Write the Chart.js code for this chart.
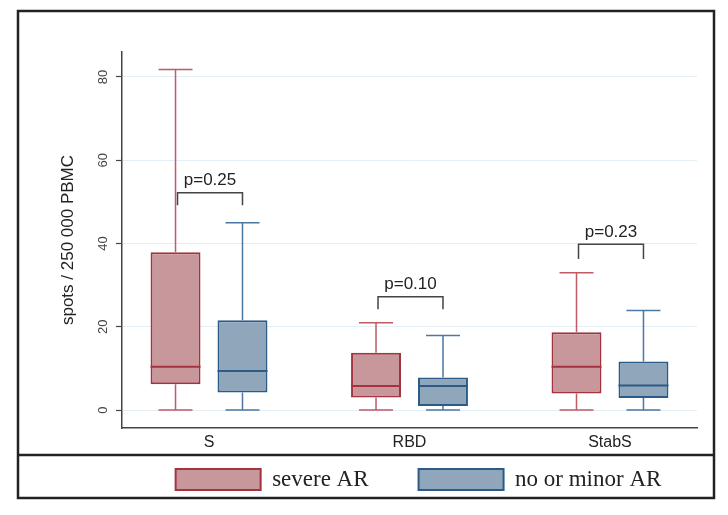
<!DOCTYPE html>
<html>
<head>
<meta charset="utf-8">
<script src="https://cdn.jsdelivr.net/npm/chart.js@4/dist/chart.umd.min.js"></script>
<style>
  html, body { margin: 0; padding: 0; background: #fff; }
  #wrap { width: 728px; height: 515px; }
</style>
</head>
<body>
<div id="wrap"><canvas id="myChart" width="728" height="515"></canvas></div>
<script>
// categories and box-plot values
var categories = ['S', 'RBD', 'StabS'];

var severeMin = [0, 0, 0];
var severeQ1 = [6.2, 3, 4];
var severeMed = [10.4, 5.8, 10.4];
var severeQ3 = [37.9, 13.8, 18.7];
var severeMax = [81.8, 21, 33];

var minorMin = [0, 0, 0];
var minorQ1 = [4.2, 1, 2.9];
var minorMed = [9.4, 5.8, 5.9];
var minorQ3 = [21.6, 7.8, 11.7];
var minorMax = [45, 17.9, 23.9];

var pLabels = ['p=0.25', 'p=0.10', 'p=0.23'];
var bracketTop = [52.2, 27.2, 39.8];
var bracketBottom = [49.2, 24.2, 36.3];

var yTicks = [0, 20, 40, 60, 80];

var groups = [
    { min: severeMin, q1: severeQ1, med: severeMed, q3: severeQ3, max: severeMax,
      border: '#a3343f', whisker: '#c05a64' },
    { min: minorMin, q1: minorQ1, med: minorMed, q3: minorQ3, max: minorMax,
      border: '#2c5b88', whisker: '#4b77a3' }
];

function boxData(q1, q3) {
    return categories.map(function (c, i) { return { x: i, y: [q1[i], q3[i]] }; });
}

var boxExtras = {
    id: 'boxExtras',
    afterLayout: function (chart) {
        // move the legend to where the original has it
        var lg = chart.legend;
        lg.left += 70; lg.right += 70;
        lg.top = 418; lg.bottom = 515;
    },
    afterDatasetsDraw: function (chart) {
        var ctx = chart.ctx;
        var y = chart.scales.y;
        ctx.save();
        groups.forEach(function (g, d) {
            var meta = chart.getDatasetMeta(d);
            meta.data.forEach(function (bar, i) {
                var cap = bar.width * 0.68;
                ctx.strokeStyle = g.whisker;
                ctx.lineWidth = 1.5;
                ctx.beginPath();
                ctx.moveTo(bar.x, y.getPixelForValue(g.q3[i]));
                ctx.lineTo(bar.x, y.getPixelForValue(g.max[i]));
                ctx.moveTo(bar.x - cap / 2, y.getPixelForValue(g.max[i]));
                ctx.lineTo(bar.x + cap / 2, y.getPixelForValue(g.max[i]));
                ctx.moveTo(bar.x, y.getPixelForValue(g.q1[i]));
                ctx.lineTo(bar.x, y.getPixelForValue(g.min[i]));
                ctx.moveTo(bar.x - cap / 2, y.getPixelForValue(g.min[i]));
                ctx.lineTo(bar.x + cap / 2, y.getPixelForValue(g.min[i]));
                ctx.stroke();
                // median
                ctx.strokeStyle = g.border;
                ctx.lineWidth = 2;
                ctx.beginPath();
                ctx.moveTo(bar.x - bar.width / 2, y.getPixelForValue(g.med[i]));
                ctx.lineTo(bar.x + bar.width / 2, y.getPixelForValue(g.med[i]));
                ctx.stroke();
            });
        });
        // brackets with p values
        var m0 = chart.getDatasetMeta(0).data, m1 = chart.getDatasetMeta(1).data;
        ctx.strokeStyle = '#444';
        ctx.lineWidth = 1.5;
        ctx.fillStyle = '#222';
        ctx.font = '17px "Liberation Sans", Arial, sans-serif';
        ctx.textAlign = 'center';
        ctx.textBaseline = 'bottom';
        categories.forEach(function (c, i) {
            var x0 = m0[i].x + 2, x1 = m1[i].x;
            var yt = y.getPixelForValue(bracketTop[i]), yb = y.getPixelForValue(bracketBottom[i]);
            ctx.beginPath();
            ctx.moveTo(x0, yb); ctx.lineTo(x0, yt); ctx.lineTo(x1, yt); ctx.lineTo(x1, yb);
            ctx.stroke();
            ctx.fillText(pLabels[i], (x0 + x1) / 2, yt - 4);
        });
        ctx.restore();
    },
    afterDraw: function (chart) {
        var ctx = chart.ctx;
        ctx.save();
        ctx.strokeStyle = '#222';
        ctx.lineWidth = 2.5;
        ctx.strokeRect(18, 11, 696, 487);
        ctx.beginPath();
        ctx.moveTo(18, 455); ctx.lineTo(714, 455);
        ctx.stroke();
        ctx.restore();
    }
};

Chart.defaults.font.family = '"Liberation Sans", Arial, sans-serif';

var ctx = document.getElementById('myChart');
var myChart = new Chart(ctx, {
    type: 'bar',
    data: {
        datasets: [{
            label: 'severe AR',
            data: boxData(severeQ1, severeQ3),
            backgroundColor: '#c8979c',
            borderColor: '#a3343f',
            borderWidth: 2,
            borderSkipped: false
        }, {
            label: 'no or minor AR',
            data: boxData(minorQ1, minorQ3),
            backgroundColor: '#8fa6bb',
            borderColor: '#2c5b88',
            borderWidth: 2,
            borderSkipped: false
        }]
    },
    options: {
        responsive: false,
        animation: false,
        categoryPercentage: 0.668,
        barPercentage: 0.746,
        layout: { padding: { top: 52, right: 31, left: 0, bottom: 0 } },
        plugins: {
            tooltip: { enabled: false },
            legend: {
                position: 'bottom',
                maxHeight: 59,
                labels: {
                    boxWidth: 85,
                    boxHeight: 21,
                    padding: 50,
                    color: '#222',
                    font: { family: '"Liberation Serif", "Times New Roman", serif', size: 23 }
                }
            }
        },
        scales: {
            x: {
                type: 'linear',
                offset: false,
                min: -0.434,
                max: 2.434,
                afterBuildTicks: function (scale) {
                    scale.ticks = categories.map(function (c, i) { return { value: i }; });
                },
                afterFit: function (scale) { scale.height = 28; },
                grid: { display: false, drawTicks: false },
                border: { display: true, color: '#444', width: 1.5 },
                ticks: {
                    padding: 5,
                    color: '#222',
                    font: { size: 16 },
                    callback: function (v) { return categories[v]; }
                }
            },
            y: {
                stacked: false,
                min: -4.3,
                max: 86,
                afterBuildTicks: function (scale) {
                    scale.ticks = yTicks.map(function (v) { return { value: v }; });
                },
                afterFit: function (scale) { scale.width = 122; },
                grid: { color: '#e3eef5', tickColor: '#444', tickLength: 6, tickWidth: 1.2 },
                border: { display: true, color: '#444', width: 1.5 },
                ticks: {
                    minRotation: 90,
                    maxRotation: 90,
                    crossAlign: 'center',
                    padding: 5,
                    color: '#444',
                    font: { size: 13 }
                },
                title: {
                    display: true,
                    text: 'spots / 250 000 PBMC',
                    color: '#222',
                    font: { size: 17 },
                    padding: { top: 58, bottom: 0 }
                }
            }
        }
    },
    plugins: [boxExtras]
});
</script>
</body>
</html>
